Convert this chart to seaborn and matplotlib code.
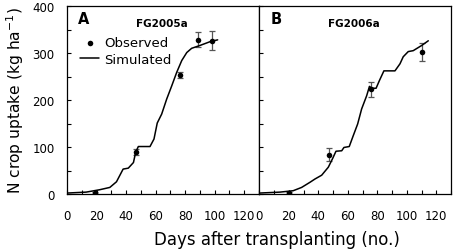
import numpy as np
import pandas as pd
import seaborn as sns
import matplotlib.pyplot as plt
from matplotlib.ticker import MultipleLocator

# FG2005a (panel A)
obs_a_day = [19, 46.5, 76.5, 88.5, 98]
obs_a_n = [2, 89, 253, 328, 326]
obs_a_err = [2, 6, 6, 16, 20]
sim_a_day = [0, 13, 22, 29, 33.5, 38, 41.5, 45, 46.5, 48.3, 56.2, 58.9, 61.1, 64.1,
             67.5, 70.9, 74.3, 77.7, 81.1, 84.4, 90, 96.8, 102]
sim_a_n = [2, 4, 9, 14, 26, 53, 55, 67, 89, 101, 101, 117, 151, 170,
           202, 230, 259, 284, 301, 310, 316, 324, 328]

# FG2006a (panel B)
obs_b_day = [20, 47.5, 75.5, 110.5]
obs_b_n = [1.5, 84, 223, 303]
obs_b_err = [2, 13, 16, 19]
sim_b_day = [0, 14, 23, 28.7, 34.4, 37.8, 42.3, 46.8, 49.8, 52, 55.9, 57.4, 61,
             63.7, 66.7, 69.4, 72.8, 74.7, 76.3, 79.2, 81.4, 84.5, 92, 95.4, 97.6,
             101, 104.4, 110.1, 114.6]
sim_b_n = [2, 4, 7, 14, 25, 32, 40, 57, 76, 91, 92, 99, 101,
           124, 149, 181, 209, 229, 225, 225, 241, 262, 262, 277, 292,
           303, 305, 316, 326]

panels = [
    ("A", "FG2005a", obs_a_day, obs_a_n, obs_a_err, sim_a_day, sim_a_n),
    ("B", "FG2006a", obs_b_day, obs_b_n, obs_b_err, sim_b_day, sim_b_n),
]

sns.set_style("ticks")
plt.rcParams['font.family'] = ['DejaVu Sans']
plt.rcParams['text.color'] = 'black'
plt.rcParams['xtick.color'] = 'black'
plt.rcParams['ytick.color'] = 'black'

W, H = 454, 251
fig = plt.figure(figsize=(W / 100, H / 100), dpi=100)
ax_a = fig.add_axes([67 / W, (H - 195) / H, 192 / W, 188 / H])
ax_b = fig.add_axes([259.3 / W, (H - 195) / H, 191.7 / W, 188 / H])

for ax, (letter, name, od, on, oe, sd, sn) in zip([ax_a, ax_b], panels):
    obs = pd.DataFrame({'day': od, 'n': on, 'err': oe})
    sim = pd.DataFrame({'day': sd, 'n': sn})

    ax.errorbar(obs['day'], obs['n'], yerr=obs['err'], fmt='none',
                ecolor='#555555', elinewidth=0.9, capsize=2.3, capthick=0.9, zorder=2)
    sns.scatterplot(data=obs, x='day', y='n', ax=ax, color='black', s=16,
                    edgecolor='black', linewidth=0, label='Observed', zorder=4)
    sns.lineplot(data=sim, x='day', y='n', ax=ax, color='black', linewidth=1.1,
                 label='Simulated', zorder=3)

    ax.set_xlim(0, 130)
    ax.set_ylim(0, 400)
    ax.xaxis.set_major_locator(MultipleLocator(20))
    ax.xaxis.set_minor_locator(MultipleLocator(10))
    ax.yaxis.set_major_locator(MultipleLocator(100))
    ax.yaxis.set_minor_locator(MultipleLocator(50))
    ax.tick_params(which='both', direction='in', length=3, width=0.8, color='black')
    ax.tick_params(axis='x', which='major', labelsize=8.5, pad=11, labelcolor='black')
    ax.tick_params(axis='y', which='major', labelsize=8.5, pad=9, labelcolor='black')
    for sp in ax.spines.values():
        sp.set_visible(True)
        sp.set_color('black')
        sp.set_linewidth(0.9)
    ax.set_xlabel('')
    ax.set_ylabel('')

    ax.text(0.089, 0.931, letter, transform=ax.transAxes, ha='center', va='center',
            fontsize=10.5, fontweight='bold')
    ax.text(0.495, 0.907, name, transform=ax.transAxes, ha='center', va='center',
            fontsize=7.5, fontweight='bold')

ax_b.tick_params(axis='y', which='both', labelleft=False)
ax_b.get_legend().remove()

handles, labels = ax_a.get_legend_handles_labels()
ax_a.legend(handles, labels, loc='upper left', bbox_to_anchor=(0.07, 0.84),
            frameon=False, fontsize=9.5, handlelength=1.4, handletextpad=0.4,
            labelspacing=0.3, borderpad=0, borderaxespad=0)

fig.text(277 / W, 11 / H, 'Days after transplanting (no.)', ha='center', va='center',
         fontsize=12)
fig.text(15 / W, 150 / H, 'N crop uptake (kg ha$^{-1}$)', ha='center', va='center',
         rotation=90, fontsize=11.2)

fig.savefig('out.png', dpi=100)
